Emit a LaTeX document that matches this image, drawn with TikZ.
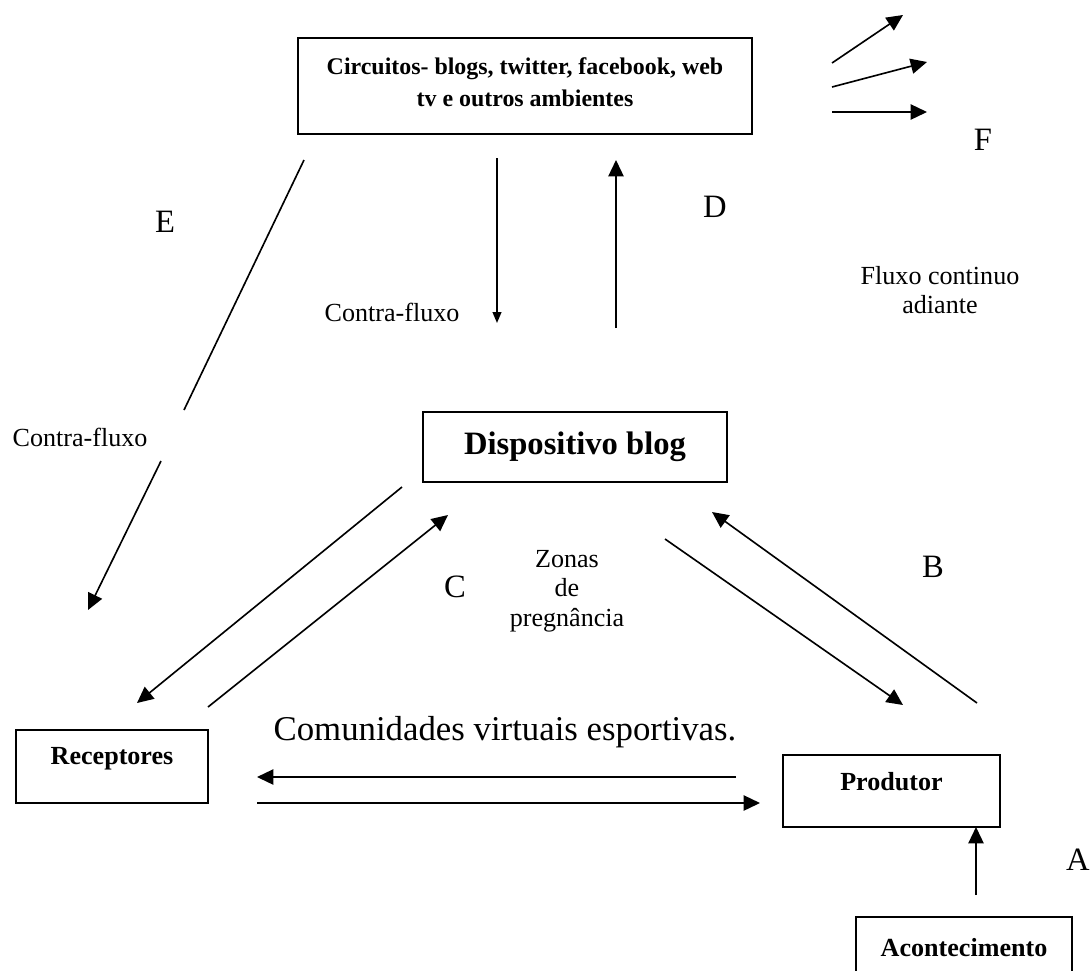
\documentclass[tikz,border=0pt]{standalone}
\usepackage{fontspec}
\setmainfont{Liberation Serif}
\usepackage{tikz}
\usetikzlibrary{arrows.meta,positioning}

\begin{document}
\begin{tikzpicture}[x=0.46pt,y=-0.46pt,>={Triangle[length=7.5pt,width=7pt]},
                    line width=0.75pt]
  \tikzstyle{box}=[draw,line width=0.8pt,rectangle,inner sep=0pt,font=\bfseries\fontsize{12}{14}\selectfont]
  \tikzstyle{letter}=[font=\fontsize{15}{17}\selectfont]
  \tikzstyle{note}=[align=center,font=\fontsize{12}{13.5}\selectfont]

  \useasboundingbox (0,0) rectangle (1092,970);
  \clip (0,0) rectangle (1092,970);

  % caixas
  \node[box,minimum width=208.8pt,minimum height=44.2pt,align=center,
        font=\bfseries\fontsize{11}{14.7}\selectfont,text depth=4pt]
        (circ) at (525,86) {Circuitos- blogs, twitter, facebook, web\\tv e outros ambientes};
  \node[box,minimum width=139.8pt,minimum height=32.2pt,
        font=\bfseries\fontsize{15}{18}\selectfont]
        (blog) at (575,447) {Dispositivo blog};
  \node[box,minimum width=88.3pt,minimum height=33.6pt,text depth=10pt]
        (rec) at (112,766.5) {Receptores\hspace{11.5pt}};
  \node[box,minimum width=99.8pt,minimum height=33.1pt,text depth=9pt]
        (prod) at (891.5,791) {Produtor};
  \node[box,minimum width=99.4pt,minimum height=33.1pt,text depth=5.4pt]
        (acon) at (964,953) {Acontecimento};

  % rotulos
  \node[letter] (lE) at (165,222) {E};
  \node[letter] (lD) at (715,207) {D};
  \node[letter] (lC) at (455,587) {C};
  \node[letter] (lB) at (933,567) {B};
  \node[letter] (lA) at (1078,860) {A};
  \node[letter] (lF) at (983,140) {F};
  \node[note] (fluxo) at (940,290) {Fluxo continuo\\adiante};
  \node[note] (zonas) at (567,591) {Zonas\\de\\pregnância};
  \node[note] (contra1) at (392,312) {Contra-fluxo};
  \node[note] (contra2) at (80,437) {Contra-fluxo};
  \node[font=\fontsize{16}{18}\selectfont] (comun) at (505,732) {Comunidades virtuais esportivas.};

  % pontas livres
  \coordinate (f0a) at (832,63);  \coordinate (f0b) at (903,15);
  \coordinate (f1a) at (832,87);  \coordinate (f1b) at (927,62);
  \coordinate (f2a) at (832,112); \coordinate (f2b) at (927,112);
  \coordinate (e0) at (304,160);  \coordinate (e1) at (184,410);
  \coordinate (e2) at (161,461);  \coordinate (e3) at (88,610);
  \coordinate (d0) at (497,158);  \coordinate (d1) at (497,323);
  \coordinate (u0) at (616,328);  \coordinate (u1) at (616,160);
  \coordinate (br0) at (402,487); \coordinate (br1) at (137,703);
  \coordinate (rb0) at (208,707); \coordinate (rb1) at (448,515);
  \coordinate (bp0) at (665,539); \coordinate (bp1) at (903,705);
  \coordinate (pb0) at (977,703); \coordinate (pb1) at (712,512);
  \coordinate (pr0) at (736,777); \coordinate (pr1) at (257,777);
  \coordinate (rp0) at (257,803); \coordinate (rp1) at (760,803);
  \coordinate (ap0) at (976,895); \coordinate (ap1) at (976,827);

  \path (f0a) edge [->] (f0b)
        (f1a) edge [->] (f1b)
        (f2a) edge [->] (f2b)
        (e0)  edge (e1)
        (e2)  edge [->] (e3)
        (d0)  edge [-{Triangle[length=5pt,width=4pt]}] (d1)
        (u0)  edge [->] (u1)
        (br0) edge [->] (br1)
        (rb0) edge [->] (rb1)
        (bp0) edge [->] (bp1)
        (pb0) edge [->] (pb1)
        (pr0) edge [->] (pr1)
        (rp0) edge [->] (rp1)
        (ap0) edge [->] (ap1)
        ;
\end{tikzpicture}
\end{document}
